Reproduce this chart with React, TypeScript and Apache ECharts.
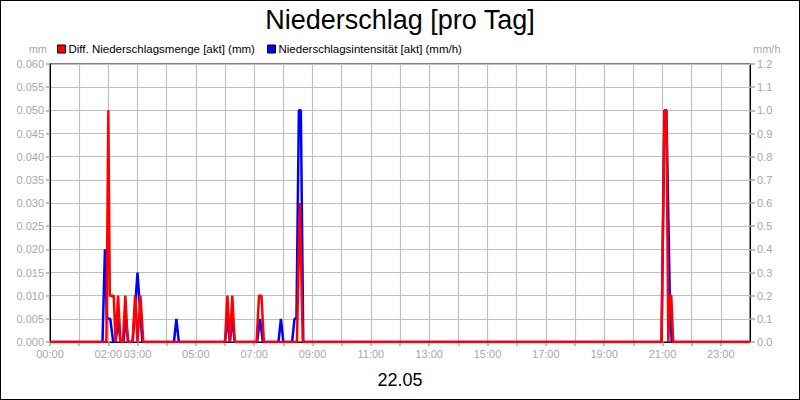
import {useEffect, useRef} from 'react';
import * as echarts from 'echarts';

// minutes since 00:00, values in mm (left axis)
const amountTimes = [0, 116, 120, 123, 131, 135, 140, 145, 150, 155, 160, 170, 175, 180, 186, 192,
    360, 365, 370, 375, 380, 425, 430, 435, 440, 508, 514, 520,
    1258, 1264, 1268, 1272, 1275, 1278, 1282, 1440];
const amountValues = [0, 0, 0.05, 0.01, 0.01, 0, 0.01, 0, 0, 0.01, 0, 0, 0.01, 0, 0.01, 0,
    0, 0.01, 0, 0.01, 0, 0, 0.01, 0.01, 0, 0, 0.03, 0,
    0, 0.05, 0.05, 0, 0.01, 0.01, 0, 0];

// minutes since 00:00, values in mm/h (right axis)
const intensityTimes = [0, 108, 113, 117, 124, 130, 135, 140, 145, 151, 156, 161, 170, 180, 190,
    255, 260, 265, 360, 365, 370, 375, 380, 426, 432, 438, 470, 475, 480,
    498, 503, 507, 512, 516, 521, 1258, 1264, 1268, 1275, 1279, 1440];
const intensityValues = [0, 0, 0.4, 0.1, 0.1, 0, 0, 0.1, 0, 0, 0.1, 0, 0, 0.3, 0,
    0, 0.1, 0, 0, 0.1, 0, 0.1, 0, 0, 0.1, 0, 0, 0.1, 0,
    0, 0.1, 0.1, 1.0, 1.0, 0, 0, 1.0, 1.0, 0.2, 0, 0];

const shownHours = [0, 2, 3, 5, 7, 9, 11, 13, 15, 17, 19, 21, 23];

const amountName = 'Diff. Niederschlagsmenge [akt] (mm)';
const intensityName = 'Niederschlagsintensität [akt] (mm/h)';

const FONT = 'Liberation Sans, Arial, sans-serif';
const GREY = '#a8a8a8';

export default function App() {
    const ref = useRef<HTMLDivElement | null>(null);

    useEffect(() => {
        document.body.style.margin = '0';
        document.body.style.overflow = 'hidden';
        if (!ref.current) return;
        const chart = echarts.init(ref.current, null, {renderer: 'svg'});
        const pad = (n: number) => (n < 10 ? '0' : '') + n;
        const legendText = {fontSize: 11.5, color: '#000', fontFamily: FONT, padding: [0, 0, 0, -2]};

        chart.setOption({
            animation: false,
            backgroundColor: '#fff',
            textStyle: {fontFamily: FONT},
            title: {
                text: 'Niederschlag [pro Tag]', left: 'center', top: 1,
                textStyle: {fontSize: 27, fontWeight: 'normal', color: '#000', fontFamily: FONT}
            },
            legend: [
                {
                    data: [amountName], left: 52, top: 38, icon: 'rect', itemWidth: 8, itemHeight: 8,
                    itemStyle: {borderColor: '#000', borderWidth: 1}, textStyle: legendText
                },
                {
                    data: [intensityName], left: 262, top: 38, icon: 'rect', itemWidth: 8, itemHeight: 8,
                    itemStyle: {borderColor: '#000', borderWidth: 1}, textStyle: legendText
                }
            ],
            grid: {
                left: 50, right: 50, top: 64, bottom: 58, show: true,
                borderColor: '#000', borderWidth: 1, backgroundColor: '#fff'
            },
            xAxis: {
                type: 'value', min: 0, max: 1440, interval: 60,
                name: '22.05', nameLocation: 'middle', nameGap: 29,
                nameTextStyle: {fontSize: 18, color: '#000', fontFamily: FONT},
                axisLine: {show: true, lineStyle: {color: '#000'}},
                axisTick: {show: true, length: 4, lineStyle: {color: GREY, width: 1.5}},
                axisLabel: {
                    fontSize: 11, color: GREY, margin: 6, showMaxLabel: false,
                    formatter: (v: number) => {
                        const h = Math.round(v / 60);
                        return shownHours.includes(h) ? pad(h) + ':00' : '';
                    }
                },
                splitLine: {show: true, lineStyle: {color: '#c0c0c0', width: 1.2}}
            },
            yAxis: [
                {
                    type: 'value', min: 0, max: 0.06, interval: 0.005, position: 'left',
                    name: 'mm', nameLocation: 'end', nameGap: 10,
                    nameTextStyle: {fontSize: 11, color: GREY, align: 'right', padding: [0, 3, 0, 0]},
                    axisLine: {show: true, lineStyle: {color: '#000'}},
                    axisTick: {show: true, length: 4, lineStyle: {color: GREY, width: 1.5}},
                    axisLabel: {fontSize: 11, color: GREY, margin: 6, formatter: (v: number) => v.toFixed(3)},
                    splitLine: {show: true, lineStyle: {color: '#c0c0c0', width: 1.2}}
                },
                {
                    type: 'value', min: 0, max: 1.2, interval: 0.1, position: 'right',
                    name: 'mm/h', nameLocation: 'end', nameGap: 10,
                    nameTextStyle: {fontSize: 11, color: GREY, align: 'left', padding: [0, 0, 0, 3]},
                    axisLine: {show: true, lineStyle: {color: '#000'}},
                    axisTick: {show: true, length: 5, lineStyle: {color: GREY, width: 1.5}},
                    axisLabel: {fontSize: 11, color: GREY, margin: 7, formatter: (v: number) => v.toFixed(1)},
                    splitLine: {show: false}
                }
            ],
            series: [
                {
                    name: intensityName, type: 'line', yAxisIndex: 1, symbol: 'none',
                    data: intensityTimes.map((t, i) => [t, intensityValues[i]]),
                    lineStyle: {color: '#0000ff', width: 2.5}, itemStyle: {color: '#0000ff'}
                },
                {
                    name: amountName, type: 'line', yAxisIndex: 0, symbol: 'none',
                    data: amountTimes.map((t, i) => [t, amountValues[i]]),
                    lineStyle: {color: '#ff0000', width: 2.5}, itemStyle: {color: '#ff0000'}
                }
            ]
        });

        return () => chart.dispose();
    }, []);

    return (
        <div style={{position: 'relative', width: 800, height: 400}}>
            <div ref={ref} style={{position: 'absolute', left: 0, top: 0, width: 800, height: 400}}/>
            <div style={{
                position: 'absolute', left: 0, top: 0, width: 800, height: 400,
                boxSizing: 'border-box', border: '1px solid #000', pointerEvents: 'none'
            }}/>
        </div>
    );
}
